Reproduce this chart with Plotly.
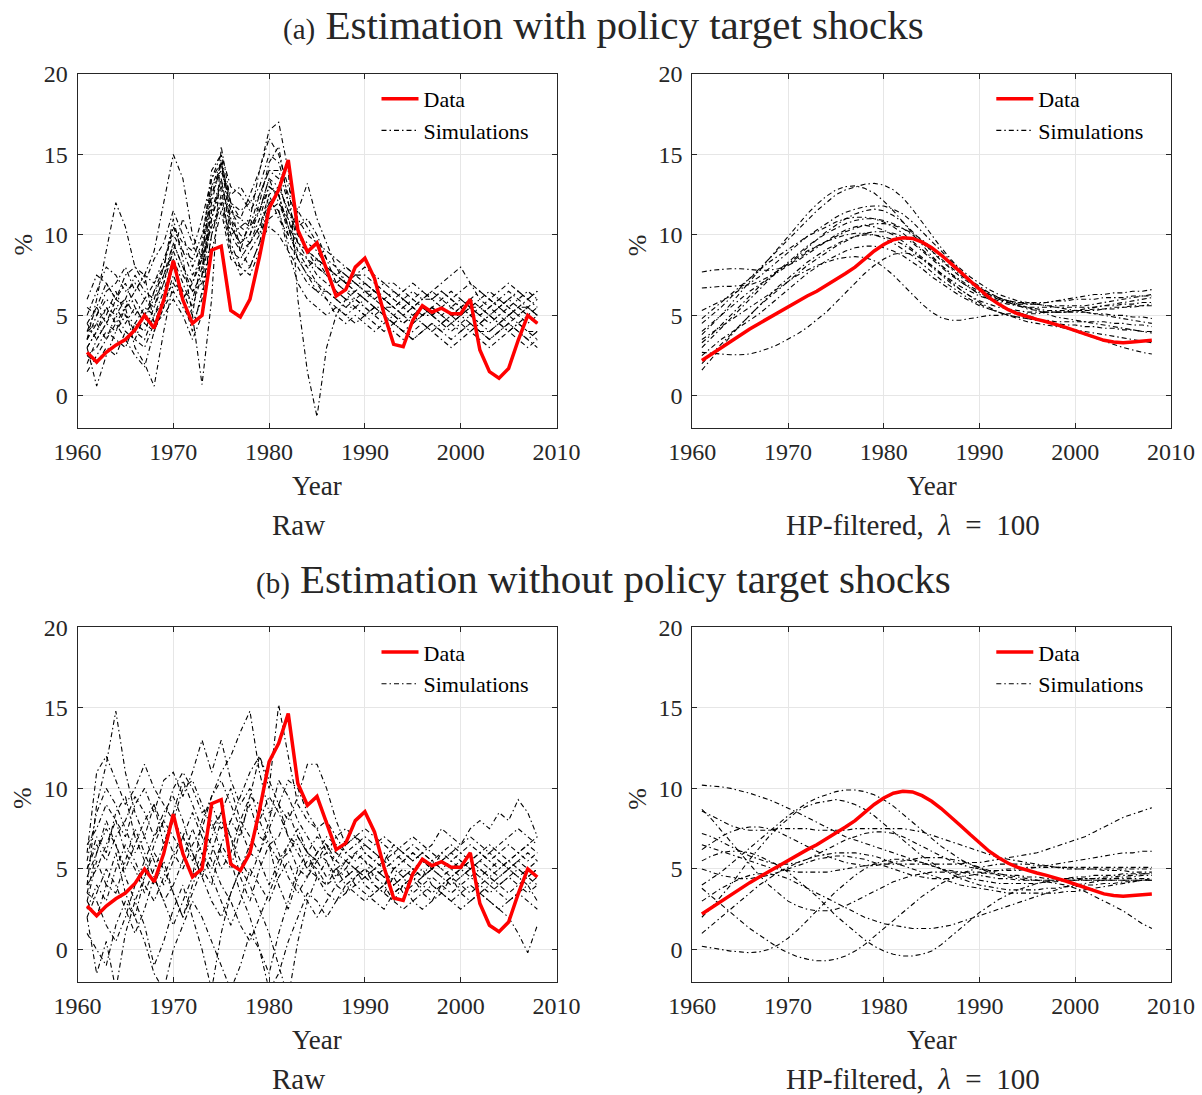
import plotly.graph_objects as go

years = list(range(1961, 2009))

data_raw = [2.7, 2.1, 2.7, 3.15, 3.5, 4.1, 5.0, 4.2, 5.95, 8.4,
            5.95, 4.5, 5.0, 9.05, 9.3, 5.3, 4.9, 6.0, 8.65, 11.65,
            12.8, 14.65, 10.3, 8.95, 9.5, 7.9, 6.2, 6.6, 8.0, 8.55,
            7.3, 5.1, 3.2, 3.05, 4.7, 5.6, 5.2, 5.45, 5.1, 5.1,
            6.0, 2.85, 1.5, 1.1, 1.7, 3.45, 5.0, 4.5]

data_hp = [2.2, 2.6, 3.0, 3.4, 3.8, 4.15, 4.5, 4.85, 5.2, 5.55,
           5.85, 6.2, 6.5, 6.85, 7.2, 7.6, 8.0, 8.5, 9.0, 9.4,
           9.7, 9.82, 9.78, 9.55, 9.2, 8.75, 8.25, 7.7, 7.15, 6.6,
           6.1, 5.7, 5.35, 5.1, 4.9, 4.75, 4.6, 4.45, 4.25, 4.05,
           3.85, 3.65, 3.45, 3.35, 3.3, 3.35, 3.4, 3.45]

# (a) with policy target shocks, raw simulations
sim_a_raw = [
    [3.5, 6.0, 9.0, 12.0, 10.5, 8.0, 7.5, 4.5, 6.0, 8.0, 6.5, 5.0, 9.0, 13.5, 15.0, 11.0, 10.0, 9.5, 11.0, 13.0,
     12.5, 10.0, 9.0, 8.5, 8.0, 7.5, 7.0, 6.5, 6.0, 6.5, 6.0, 5.5, 5.5, 5.0, 5.5, 5.0, 5.5, 5.0, 4.5, 5.0,
     5.5, 5.0, 4.5, 5.0, 5.5, 5.0, 4.5, 5.0],
    [4.5, 5.5, 7.0, 6.0, 5.5, 6.5, 7.5, 9.0, 12.0, 15.0, 13.5, 10.0, 8.5, 12.0, 14.5, 11.5, 10.5, 10.0, 11.5, 13.5,
     12.0, 11.0, 9.5, 9.0, 8.0, 7.5, 7.0, 7.5, 7.0, 6.5, 6.5, 6.0, 5.5, 6.0, 5.5, 6.0, 6.0, 5.5, 5.0, 5.5,
     6.0, 5.5, 5.0, 5.5, 6.0, 5.5, 5.0, 5.5],
    [3.0, 4.0, 5.5, 5.0, 4.0, 3.5, 5.0, 6.5, 8.0, 11.0, 8.5, 5.0, 0.7, 6.0, 15.5, 12.0, 9.0, 8.0, 9.5, 12.0,
     11.5, 9.0, 8.0, 7.0, 6.5, 6.5, 6.0, 5.5, 5.5, 6.0, 5.5, 5.0, 4.5, 5.0, 4.5, 5.0, 5.5, 5.0, 4.5, 4.0,
     4.5, 4.0, 4.0, 4.5, 5.0, 4.5, 4.0, 3.5],
    [2.5, 3.0, 4.0, 3.5, 3.0, 4.5, 4.0, 5.5, 7.5, 9.5, 8.0, 6.5, 7.0, 11.0, 13.5, 10.0, 9.0, 11.0, 14.0, 16.5,
     17.0, 14.0, 6.0, 1.5, -1.3, 3.0, 5.0, 6.0, 5.5, 5.0, 5.5, 5.0, 4.5, 4.0, 4.5, 5.0, 5.0, 4.5, 5.0, 5.5,
     5.0, 4.5, 4.0, 4.5, 5.0, 5.5, 5.0, 4.5],
    [3.0, 0.6, 2.5, 4.0, 5.5, 3.0, 2.0, 0.6, 4.0, 7.0, 6.0, 4.0, 6.5, 10.0, 12.5, 9.5, 8.0, 9.0, 10.0, 11.5,
     12.0, 10.5, 8.5, 8.0, 7.0, 6.0, 5.5, 5.0, 5.5, 5.0, 4.5, 4.0, 4.5, 4.0, 3.5, 4.0, 4.5, 4.0, 3.5, 4.0,
     4.5, 4.0, 3.5, 4.0, 4.5, 4.0, 3.5, 3.0],
    [5.0, 6.5, 8.0, 7.5, 6.5, 7.0, 6.0, 7.0, 8.5, 10.0, 9.0, 8.5, 10.0, 13.0, 14.0, 12.0, 11.5, 12.0, 13.0, 15.0,
     14.5, 12.5, 11.0, 10.0, 9.5, 9.0, 8.5, 8.0, 7.5, 7.5, 7.0, 6.5, 6.0, 6.5, 6.0, 6.5, 6.0, 6.5, 6.0, 6.5,
     7.0, 6.5, 6.0, 6.5, 7.0, 6.5, 6.0, 6.5],
    [2.0, 3.5, 4.5, 4.0, 5.0, 4.5, 5.5, 5.0, 6.5, 8.5, 7.0, 5.5, 7.5, 12.5, 14.5, 10.5, 9.5, 10.0, 12.0, 14.5,
     15.5, 12.0, 10.0, 9.5, 9.0, 8.0, 7.5, 7.0, 7.0, 6.5, 6.0, 6.5, 6.0, 5.5, 6.0, 5.5, 5.0, 5.5, 6.0, 5.5,
     5.0, 5.5, 6.0, 5.5, 5.0, 5.5, 6.0, 5.5],
    [4.0, 4.5, 3.5, 5.0, 6.0, 7.5, 6.5, 6.0, 7.0, 9.0, 11.0, 9.5, 8.0, 11.5, 13.0, 9.0, 8.5, 9.5, 10.5, 12.5,
     13.0, 11.5, 10.5, 11.0, 10.0, 8.5, 7.0, 6.5, 6.5, 7.0, 6.5, 6.0, 5.5, 5.0, 5.5, 5.0, 5.5, 6.0, 6.5, 6.0,
     5.5, 5.0, 5.5, 6.0, 5.5, 5.0, 5.5, 5.0],
    [3.5, 5.0, 6.0, 5.5, 4.5, 5.5, 4.5, 4.0, 5.5, 7.5, 6.0, 7.0, 8.5, 10.5, 12.0, 10.0, 10.5, 11.0, 10.0, 12.5,
     11.0, 10.0, 11.5, 13.2, 11.0, 9.5, 8.0, 7.0, 7.5, 8.0, 7.5, 7.0, 7.0, 6.5, 7.0, 6.5, 6.0, 6.5, 6.0, 5.5,
     6.0, 6.5, 6.0, 5.5, 6.0, 6.5, 6.0, 6.5],
    [2.5, 2.0, 3.0, 2.5, 4.0, 3.5, 3.0, 4.5, 5.0, 6.0, 5.0, 3.5, 5.0, 9.0, 11.5, 8.5, 8.0, 7.5, 9.0, 11.0,
     11.5, 9.5, 8.5, 7.5, 6.5, 6.0, 5.0, 4.5, 5.0, 4.5, 4.0, 4.5, 4.0, 3.5, 4.0, 4.5, 4.0, 3.5, 3.0, 3.5,
     4.0, 3.5, 3.0, 3.5, 4.0, 3.5, 3.0, 3.5],
    [6.0, 7.5, 7.0, 6.0, 7.5, 8.0, 7.0, 8.5, 9.5, 11.5, 10.0, 8.0, 9.5, 14.0, 15.0, 13.0, 12.5, 11.5, 12.5, 14.0,
     13.5, 11.0, 9.0, 8.0, 8.5, 8.0, 7.5, 8.0, 7.5, 7.0, 6.5, 7.0, 6.5, 6.0, 6.5, 6.0, 6.5, 6.0, 5.5, 6.0,
     5.5, 6.0, 6.5, 6.0, 5.5, 6.0, 6.5, 6.0],
    [3.0, 4.0, 5.0, 6.5, 5.0, 4.0, 3.5, 5.0, 6.0, 7.0, 6.5, 6.0, 8.0, 11.0, 13.0, 11.0, 9.0, 9.5, 10.5, 12.0,
     12.5, 10.5, 9.5, 9.0, 8.5, 7.5, 6.5, 6.0, 6.0, 5.5, 5.0, 5.5, 5.0, 4.5, 5.0, 5.5, 5.0, 4.5, 5.0, 4.5,
     4.0, 4.5, 5.0, 4.5, 4.0, 4.5, 5.0, 4.5],
    [4.5, 3.5, 4.5, 5.5, 6.0, 5.0, 6.0, 5.5, 7.0, 9.5, 8.0, 7.0, 9.0, 12.5, 14.0, 12.5, 13.0, 12.0, 11.5, 13.5,
     13.0, 11.5, 10.0, 9.0, 8.5, 8.0, 7.5, 7.0, 6.5, 6.0, 6.5, 6.0, 5.5, 6.0, 5.5, 6.0, 6.5, 7.0, 7.5, 8.0,
     7.0, 6.0, 5.5, 5.0, 4.5, 5.0, 5.5, 5.0],
    [1.5, 2.5, 3.5, 4.5, 3.5, 2.5, 1.8, 4.0, 5.5, 6.5, 5.5, 4.5, 6.0, 10.0, 12.0, 9.0, 7.5, 8.0, 9.5, 10.5,
     10.0, 9.0, 7.0, 6.0, 5.5, 5.0, 5.5, 5.0, 4.5, 5.0, 5.5, 5.0, 4.5, 4.0, 3.5, 4.0, 4.5, 4.0, 4.5, 5.0,
     4.5, 4.0, 3.5, 4.0, 4.5, 4.0, 3.5, 4.0],
    [5.5, 5.0, 6.5, 7.0, 8.0, 6.5, 7.5, 7.0, 8.0, 10.5, 9.5, 9.0, 11.0, 13.5, 14.5, 12.0, 11.0, 12.5, 14.0, 16.0,
     15.0, 13.0, 11.5, 10.5, 9.5, 8.5, 8.0, 7.5, 7.0, 7.0, 6.5, 6.0, 6.5, 6.0, 5.5, 5.0, 5.5, 5.0, 5.5, 5.0,
     5.5, 5.0, 5.5, 6.0, 6.5, 6.0, 5.5, 6.0],
    [4.0, 5.5, 4.5, 6.0, 7.0, 5.5, 4.5, 6.5, 7.5, 9.0, 7.5, 6.5, 7.5, 11.5, 13.5, 10.5, 9.5, 10.5, 12.5, 14.0,
     14.0, 12.0, 9.5, 8.5, 7.5, 7.0, 6.5, 6.0, 6.5, 6.0, 5.5, 5.5, 5.0, 5.5, 5.0, 5.5, 5.0, 5.5, 5.0, 5.0,
     5.5, 5.5, 5.0, 5.5, 5.0, 5.5, 5.5, 5.0],
    [3.5, 4.5, 5.5, 4.5, 5.5, 6.0, 5.0, 6.0, 8.0, 10.5, 9.0, 7.5, 8.5, 13.0, 14.5, 11.5, 11.0, 10.5, 11.5, 13.0,
     12.5, 10.5, 8.5, 7.5, 7.0, 6.5, 6.0, 5.5, 6.0, 5.5, 5.0, 4.5, 5.0, 4.5, 5.0, 4.5, 4.0, 4.5, 4.0, 4.5,
     5.0, 4.5, 5.0, 4.5, 4.0, 4.5, 4.0, 4.0],
]

# (a) with policy target shocks, HP-filtered simulations
sim_a_hp = [
    [7.7, 7.8, 7.85, 7.9, 7.9, 7.85, 7.8, 7.8, 7.9, 8.1, 8.4, 8.8, 9.2, 9.6, 10.0, 10.3, 10.5, 10.6, 10.5, 10.3,
     10.0, 9.6, 9.1, 8.6, 8.1, 7.6, 7.2, 6.8, 6.5, 6.2, 6.0, 5.8, 5.7, 5.6, 5.5, 5.5, 5.5, 5.5, 5.5, 5.5,
     5.5, 5.5, 5.6, 5.6, 5.7, 5.7, 5.8, 5.8],
    [6.7, 6.75, 6.8, 6.8, 6.85, 6.9, 7.1, 7.4, 7.8, 8.2, 8.7, 9.2, 9.7, 10.2, 10.6, 11.0, 11.3, 11.5, 11.6, 11.5,
     11.2, 10.8, 10.2, 9.6, 9.0, 8.4, 7.9, 7.4, 7.0, 6.6, 6.3, 6.1, 5.9, 5.8, 5.7, 5.7, 5.6, 5.6, 5.6, 5.6,
     5.6, 5.7, 5.8, 5.9, 6.0, 6.1, 6.2, 6.3],
    [2.7, 2.65, 2.6, 2.55, 2.55, 2.6, 2.75, 2.95, 3.2, 3.5, 3.85, 4.25, 4.7, 5.2, 5.8, 6.4, 7.0, 7.6, 8.1, 8.5,
     8.8, 8.9, 8.8, 8.5, 8.1, 7.6, 7.1, 6.6, 6.2, 5.8, 5.5, 5.2, 5.0, 4.8, 4.6, 4.5, 4.4, 4.3, 4.2, 4.1,
     4.0, 3.9, 3.8, 3.7, 3.6, 3.5, 3.4, 3.3],
    [3.5, 3.9, 4.3, 4.7, 5.1, 5.5, 5.9, 6.3, 6.7, 7.1, 7.5, 7.8, 8.1, 8.3, 8.5, 8.6, 8.65, 8.6, 8.4, 8.0,
     7.5, 6.9, 6.3, 5.7, 5.2, 4.85, 4.7, 4.7, 4.8, 4.9, 5.0, 5.0, 5.1, 5.1, 5.1, 5.1, 5.2, 5.2, 5.2, 5.2,
     5.2, 5.1, 5.1, 5.0, 5.0, 4.9, 4.9, 4.8],
    [4.5, 5.0, 5.5, 6.1, 6.7, 7.3, 7.9, 8.5, 9.1, 9.7, 10.3, 10.9, 11.5, 12.0, 12.5, 12.8, 13.0, 13.15, 13.2, 13.1,
     12.8, 12.3, 11.6, 10.8, 10.0, 9.2, 8.5, 7.8, 7.2, 6.7, 6.3, 6.0, 5.8, 5.6, 5.5, 5.4, 5.3, 5.3, 5.3, 5.3,
     5.3, 5.3, 5.4, 5.4, 5.5, 5.5, 5.6, 5.6],
    [3.8, 4.4, 5.0, 5.7, 6.4, 7.1, 7.8, 8.5, 9.2, 9.9, 10.6, 11.3, 11.9, 12.4, 12.8, 13.0, 13.05, 12.9, 12.6, 12.1,
     11.5, 10.8, 10.1, 9.4, 8.7, 8.1, 7.6, 7.1, 6.7, 6.4, 6.1, 5.9, 5.8, 5.7, 5.7, 5.7, 5.8, 5.9, 6.0, 6.1,
     6.2, 6.3, 6.3, 6.4, 6.4, 6.5, 6.5, 6.6],
    [2.0, 2.6, 3.2, 3.8, 4.4, 5.0, 5.6, 6.1, 6.6, 7.1, 7.6, 8.1, 8.5, 8.9, 9.3, 9.6, 9.9, 10.1, 10.2, 10.2,
     10.1, 9.9, 9.5, 9.0, 8.5, 8.0, 7.5, 7.1, 6.7, 6.3, 6.0, 5.7, 5.4, 5.2, 5.0, 4.8, 4.6, 4.4, 4.2, 4.0,
     3.8, 3.6, 3.4, 3.2, 3.0, 2.85, 2.7, 2.6],
    [1.6, 2.3, 3.0, 3.7, 4.4, 5.0, 5.6, 6.2, 6.8, 7.3, 7.8, 8.3, 8.7, 9.1, 9.4, 9.7, 9.9, 10.0, 10.0, 9.9,
     9.7, 9.4, 9.0, 8.5, 8.0, 7.5, 7.0, 6.6, 6.2, 5.9, 5.7, 5.5, 5.4, 5.3, 5.2, 5.2, 5.2, 5.2, 5.2, 5.3,
     5.3, 5.4, 5.4, 5.5, 5.5, 5.6, 5.6, 5.7],
    [5.3, 5.6, 5.9, 6.2, 6.6, 7.0, 7.4, 7.9, 8.4, 8.9, 9.4, 9.9, 10.3, 10.7, 11.1, 11.4, 11.6, 11.75, 11.8, 11.8,
     11.6, 11.3, 10.8, 10.2, 9.6, 9.0, 8.4, 7.9, 7.4, 7.0, 6.6, 6.3, 6.1, 5.9, 5.8, 5.7, 5.6, 5.5, 5.4, 5.3,
     5.2, 5.1, 5.0, 4.9, 4.8, 4.7, 4.6, 4.5],
    [3.0, 3.6, 4.2, 4.8, 5.4, 6.0, 6.6, 7.2, 7.8, 8.3, 8.8, 9.3, 9.7, 10.1, 10.4, 10.7, 10.9, 11.0, 11.0, 10.9,
     10.7, 10.4, 10.0, 9.5, 9.0, 8.5, 8.0, 7.5, 7.1, 6.7, 6.4, 6.1, 5.9, 5.7, 5.5, 5.3, 5.1, 4.9, 4.8, 4.7,
     4.6, 4.5, 4.4, 4.3, 4.2, 4.1, 4.0, 3.9],
    [4.0, 4.5, 5.0, 5.5, 6.0, 6.5, 6.9, 7.3, 7.7, 8.1, 8.5, 8.9, 9.3, 9.6, 9.9, 10.2, 10.4, 10.6, 10.7, 10.7,
     10.6, 10.4, 10.1, 9.7, 9.2, 8.7, 8.2, 7.7, 7.2, 6.8, 6.4, 6.1, 5.8, 5.6, 5.4, 5.3, 5.2, 5.2, 5.2, 5.3,
     5.4, 5.5, 5.6, 5.7, 5.8, 5.9, 6.0, 6.1],
    [2.5, 3.0, 3.5, 3.9, 4.3, 4.7, 5.1, 5.6, 6.1, 6.6, 7.1, 7.6, 8.0, 8.4, 8.7, 9.0, 9.2, 9.3, 9.3, 9.2,
     9.0, 8.7, 8.3, 7.9, 7.4, 7.0, 6.6, 6.2, 5.9, 5.6, 5.4, 5.2, 5.0, 4.9, 4.8, 4.7, 4.6, 4.5, 4.4, 4.4,
     4.3, 4.3, 4.2, 4.2, 4.1, 4.1, 4.0, 4.0],
    [4.8, 5.3, 5.8, 6.3, 6.8, 7.3, 7.8, 8.3, 8.7, 9.1, 9.5, 9.9, 10.2, 10.5, 10.8, 11.0, 11.1, 11.1, 11.0, 10.8,
     10.5, 10.1, 9.6, 9.1, 8.6, 8.1, 7.6, 7.2, 6.8, 6.5, 6.2, 6.0, 5.9, 5.8, 5.8, 5.8, 5.8, 5.9, 5.9, 6.0,
     6.0, 6.0, 6.1, 6.1, 6.1, 6.2, 6.2, 6.2],
    [3.3, 3.8, 4.4, 5.0, 5.6, 6.2, 6.8, 7.3, 7.8, 8.2, 8.6, 9.0, 9.3, 9.6, 9.8, 10.0, 10.1, 10.1, 10.0, 9.8,
     9.5, 9.1, 8.7, 8.2, 7.7, 7.2, 6.8, 6.4, 6.0, 5.7, 5.4, 5.2, 5.0, 4.9, 4.8, 4.7, 4.7, 4.6, 4.6, 4.6,
     4.6, 4.6, 4.6, 4.5, 4.5, 4.4, 4.4, 4.3],
]

# (b) without policy target shocks, raw simulations
sim_b_raw = [
    [4.0, 9.0, 11.5, 14.8, 11.0, 8.5, 7.0, 9.0, 6.5, 8.0, 7.0, 5.5, 6.5, 8.0, 6.0, 5.0, 7.5, 9.0, 7.0, 6.5,
     5.5, 6.0, 7.0, 6.0, 5.5, 6.5, 5.0, 4.5, 5.0, 5.5, 4.5, 5.0, 4.0, 4.5, 5.0, 4.5, 5.5, 5.0, 4.5, 5.0,
     5.5, 5.0, 4.5, 5.0, 5.5, 5.0, 4.5, 5.0],
    [3.0, 5.5, 4.0, 6.0, 3.5, 2.0, 4.5, 6.5, 8.0, 7.0, 6.0, 4.5, 8.0, 9.5, 11.0, 12.0, 13.5, 14.8, 11.0, 8.5,
     9.0, 7.0, 6.5, 5.0, 6.0, 5.5, 4.5, 5.0, 4.0, 4.5, 5.0, 4.5, 3.5, 4.0, 4.5, 5.0, 4.0, 3.5, 4.5, 4.0,
     3.5, 4.0, 4.5, 4.0, 3.5, 4.0, 4.5, 4.0],
    [5.0, 7.0, 6.0, 8.5, 9.5, 7.0, 5.5, 4.0, 5.5, 3.5, 2.0, 3.5, 5.0, 4.0, 6.5, 8.0, 7.0, 9.5, 12.0, 10.0,
     15.2, 12.0, 9.0, 8.0, 7.5, 6.0, 5.5, 6.5, 7.0, 6.0, 5.5, 6.0, 5.0, 5.5, 6.0, 5.5, 5.0, 6.0, 5.5, 5.0,
     5.5, 6.0, 5.5, 5.0, 5.5, 6.0, 5.5, 6.0],
    [2.0, -1.5, 0.5, -2.5, 1.0, 3.0, 1.5, -1.0, 0.5, 2.5, 4.0, 2.0, 0.0, -2.5, 1.0, 3.5, 5.0, 4.0, 2.5, 1.0,
     -1.0, -3.0, 0.5, 3.0, 4.5, 5.5, 4.0, 3.5, 4.5, 5.0, 4.0, 3.5, 3.0, 4.0, 4.5, 3.5, 3.0, 4.0, 4.5, 3.5,
     3.0, 3.5, 4.0, 3.5, 3.0, 3.5, 4.0, 3.0],
    [6.0, 11.0, 12.0, 10.5, 9.0, 10.0, 11.5, 10.0, 9.0, 8.0, 10.0, 10.5, 9.0, 7.5, 8.5, 10.0, 8.0, 7.0, 6.0, 7.5,
     9.0, 8.0, 9.5, 11.5, 11.5, 10.0, 8.0, 6.5, 7.0, 7.5, 7.0, 6.5, 6.0, 6.5, 7.0, 6.5, 6.0, 5.5, 6.0, 6.5,
     7.0, 6.5, 6.0, 6.5, 7.0, 7.5, 7.0, 6.5],
    [3.5, 3.0, 1.5, 0.5, 2.0, 4.0, 5.5, 7.0, 8.5, 9.5, 8.0, 6.0, 4.5, 3.0, 2.0, 3.5, 5.0, 6.5, 8.0, 9.5,
     8.5, 7.0, 6.0, 5.0, 4.5, 4.0, 5.0, 5.5, 5.0, 4.5, 4.0, 3.5, 4.5, 5.0, 4.5, 4.0, 3.5, 4.0, 4.5, 5.0,
     4.5, 4.0, 3.5, 4.0, 4.5, 4.0, 3.5, 4.0],
    [4.5, 6.0, 7.5, 6.5, 5.0, 6.5, 8.0, 9.0, 7.5, 6.0, 5.0, 6.5, 7.5, 9.5, 10.5, 9.0, 7.5, 6.0, 5.5, 4.0,
     5.5, 6.5, 5.0, 4.5, 5.5, 6.0, 7.0, 7.5, 7.0, 6.5, 6.0, 5.5, 6.5, 6.0, 5.5, 6.0, 6.5, 7.5, 7.0, 6.5,
     7.5, 8.0, 7.5, 8.5, 8.0, 9.3, 8.5, 7.0],
    [2.5, 4.0, 3.0, 5.0, 6.5, 5.5, 4.0, 3.0, 4.5, 6.0, 7.0, 8.5, 7.0, 5.5, 4.0, 3.0, 1.5, 0.5, 2.0, 3.5,
     5.0, 6.5, 7.5, 6.0, 4.5, 3.5, 3.0, 4.0, 3.5, 3.0, 3.5, 4.0, 3.0, 2.5, 3.0, 3.5, 4.0, 3.5, 3.0, 3.5,
     4.0, 3.5, 3.0, 2.5, 2.0, 1.0, -0.2, 1.5],
    [5.5, 8.5, 10.0, 9.0, 7.5, 6.0, 7.0, 5.5, 4.0, 5.5, 7.0, 6.0, 4.5, 6.0, 8.0, 7.0, 5.5, 4.5, 6.0, 8.0,
     10.5, 9.5, 8.0, 7.0, 6.0, 6.5, 5.5, 5.0, 6.0, 5.5, 5.0, 5.5, 6.0, 5.5, 5.0, 4.5, 5.0, 5.5, 5.0, 4.5,
     5.0, 5.5, 5.0, 4.5, 5.0, 5.5, 5.0, 4.5],
    [1.0, 0.0, -1.0, 1.5, 3.0, 2.0, 0.5, -1.5, -2.5, 0.0, 1.5, 3.0, 2.0, 0.5, -1.0, -2.5, -1.0, 1.0, 0.0, -2.5,
     -1.5, 0.5, 2.0, 3.5, 3.0, 2.0, 3.0, 3.5, 4.0, 3.5, 3.0, 2.5, 3.5, 4.0, 3.0, 2.5, 3.0, 3.5, 3.0, 2.5,
     3.0, 3.5, 3.0, 2.5, 3.0, 3.5, 3.0, 2.5],
    [4.0, 5.0, 6.5, 8.0, 7.0, 9.0, 10.0, 8.5, 10.5, 11.0, 9.5, 11.0, 13.0, 11.0, 13.0, 10.5, 9.0, 10.0, 8.0, 6.5,
     7.0, 8.5, 7.0, 6.0, 7.0, 6.5, 6.0, 5.5, 6.0, 6.5, 6.0, 5.5, 5.0, 5.5, 6.0, 5.5, 5.0, 5.5, 6.0, 5.5,
     5.0, 5.5, 6.0, 5.5, 5.0, 5.5, 6.0, 5.5],
    [3.0, 2.0, 4.0, 3.5, 5.5, 7.5, 6.0, 4.5, 3.0, 1.5, 3.0, 4.5, 6.0, 5.0, 6.5, 5.5, 3.5, 2.0, 0.0, -1.5,
     1.0, 3.0, 5.0, 6.0, 5.5, 4.5, 5.0, 4.0, 4.5, 5.0, 4.5, 4.0, 4.5, 3.5, 4.0, 4.5, 5.0, 4.5, 4.0, 4.5,
     5.0, 4.5, 4.0, 4.5, 5.0, 4.5, 4.0, 4.5],
    [6.5, 7.5, 9.0, 8.0, 6.0, 5.0, 3.5, 5.0, 6.5, 8.5, 10.5, 9.0, 7.5, 6.5, 5.0, 6.0, 8.0, 9.5, 9.0, 7.5,
     6.0, 4.5, 3.5, 4.5, 6.0, 7.0, 6.5, 6.0, 5.5, 6.0, 5.5, 5.0, 5.5, 6.0, 6.5, 6.0, 5.5, 5.0, 5.5, 6.0,
     6.5, 6.0, 5.5, 6.0, 6.5, 6.0, 6.5, 7.0],
    [2.0, 3.5, 5.0, 4.0, 2.5, 1.0, 2.5, 4.5, 3.0, 4.0, 5.5, 7.5, 6.0, 4.5, 3.0, 1.5, 3.0, 5.0, 4.0, 3.0,
     4.5, 5.5, 4.0, 3.0, 2.0, 3.0, 4.0, 4.5, 5.0, 4.5, 5.0, 4.5, 4.0, 4.5, 5.0, 5.5, 5.0, 4.5, 5.0, 5.5,
     5.0, 4.5, 5.0, 5.5, 5.0, 4.5, 5.0, 5.5],
    [5.0, 6.5, 5.5, 7.0, 8.0, 9.5, 8.5, 7.0, 8.0, 10.0, 11.0, 10.0, 8.5, 9.0, 7.5, 8.0, 9.5, 11.0, 12.0, 10.5,
     9.0, 10.5, 10.0, 8.5, 7.5, 8.0, 7.0, 6.0, 6.5, 7.0, 6.5, 7.0, 6.5, 6.0, 5.5, 6.0, 5.5, 6.0, 6.5, 6.0,
     5.5, 6.0, 6.5, 6.0, 5.5, 6.0, 6.5, 6.0],
    [3.5, 6.0, 8.0, 6.5, 4.5, 3.0, 4.5, 6.0, 5.0, 3.5, 2.0, 4.0, 5.5, 7.0, 8.5, 7.0, 4.5, 3.0, 5.0, 6.5,
     4.0, 2.5, 4.5, 5.5, 5.0, 4.0, 4.5, 5.5, 5.0, 4.0, 3.5, 4.0, 5.0, 4.5, 3.5, 4.0, 4.5, 4.0, 3.5, 4.0,
     4.5, 5.0, 4.5, 4.0, 4.5, 5.0, 4.5, 5.0],
]

# (b) without policy target shocks, HP-filtered simulations
sim_b_hp = [
    [10.2, 10.15, 10.1, 10.0, 9.85, 9.7, 9.5, 9.3, 9.05, 8.8, 8.5, 8.2, 7.9, 7.6, 7.3, 7.0, 6.8, 6.6, 6.4, 6.2,
     6.0, 5.8, 5.6, 5.4, 5.2, 5.0, 4.9, 4.8, 4.7, 4.6, 4.5, 4.4, 4.4, 4.3, 4.3, 4.3, 4.3, 4.3, 4.3, 4.3,
     4.3, 4.3, 4.3, 4.3, 4.3, 4.3, 4.3, 4.3],
    [0.2, 0.1, 0.0, -0.1, -0.15, -0.2, -0.15, 0.0, 0.3, 0.7, 1.2, 1.8, 2.4, 3.0, 3.6, 4.1, 4.6, 5.0, 5.3, 5.5,
     5.6, 5.6, 5.5, 5.4, 5.2, 5.0, 4.8, 4.6, 4.4, 4.3, 4.2, 4.1, 4.1, 4.1, 4.1, 4.1, 4.2, 4.2, 4.3, 4.3,
     4.4, 4.4, 4.5, 4.5, 4.6, 4.6, 4.7, 4.7],
    [3.8, 3.3, 2.8, 2.3, 1.8, 1.3, 0.9, 0.5, 0.1, -0.2, -0.45, -0.6, -0.7, -0.7, -0.6, -0.4, -0.1, 0.3, 0.8, 1.3,
     1.8, 2.3, 2.8, 3.3, 3.7, 4.1, 4.4, 4.7, 4.9, 5.1, 5.2, 5.3, 5.3, 5.3, 5.3, 5.2, 5.2, 5.1, 5.1, 5.0,
     5.0, 5.0, 4.9, 4.9, 4.9, 4.8, 4.8, 4.8],
    [5.5, 5.8, 6.0, 6.1, 6.1, 6.0, 5.8, 5.5, 5.2, 4.8, 4.3, 3.8, 3.3, 2.7, 2.1, 1.6, 1.1, 0.6, 0.2, -0.1,
     -0.3, -0.4, -0.4, -0.3, -0.1, 0.3, 0.8, 1.3, 1.8, 2.3, 2.7, 3.1, 3.4, 3.7, 3.9, 4.1, 4.2, 4.3, 4.4, 4.5,
     4.5, 4.6, 4.6, 4.6, 4.7, 4.7, 4.7, 4.7],
    [4.0, 4.4, 4.8, 5.3, 5.8, 6.3, 6.8, 7.3, 7.8, 8.3, 8.7, 9.1, 9.4, 9.6, 9.8, 9.9, 9.9, 9.8, 9.6, 9.3,
     8.9, 8.4, 7.9, 7.4, 6.9, 6.4, 6.0, 5.6, 5.3, 5.0, 4.8, 4.6, 4.5, 4.4, 4.3, 4.3, 4.3, 4.3, 4.3, 4.3,
     4.3, 4.3, 4.3, 4.3, 4.3, 4.3, 4.3, 4.3],
    [6.5, 6.3, 6.1, 5.9, 5.7, 5.5, 5.3, 5.1, 5.0, 4.9, 4.8, 4.8, 4.8, 4.8, 4.9, 5.0, 5.1, 5.2, 5.3, 5.3,
     5.3, 5.3, 5.3, 5.3, 5.3, 5.3, 5.3, 5.3, 5.4, 5.4, 5.5, 5.6, 5.7, 5.8, 5.9, 6.0, 6.2, 6.4, 6.6, 6.8,
     7.0, 7.3, 7.6, 7.9, 8.2, 8.4, 8.6, 8.8],
    [6.2, 6.6, 7.0, 7.3, 7.5, 7.6, 7.6, 7.5, 7.3, 7.0, 6.7, 6.4, 6.1, 5.8, 5.6, 5.4, 5.3, 5.2, 5.2, 5.3,
     5.4, 5.5, 5.6, 5.7, 5.7, 5.7, 5.6, 5.5, 5.3, 5.1, 4.9, 4.7, 4.6, 4.5, 4.4, 4.3, 4.2, 4.1, 4.0, 3.8,
     3.6, 3.3, 3.0, 2.7, 2.4, 2.0, 1.6, 1.3],
    [2.0, 2.6, 3.3, 4.0, 4.8, 5.6, 6.3, 7.0, 7.6, 8.1, 8.6, 8.9, 9.1, 9.2, 9.3, 9.2, 9.0, 8.7, 8.3, 7.8,
     7.3, 6.8, 6.3, 5.8, 5.4, 5.0, 4.7, 4.4, 4.2, 4.0, 3.9, 3.8, 3.7, 3.7, 3.7, 3.7, 3.8, 3.8, 3.9, 3.9,
     4.0, 4.0, 4.1, 4.1, 4.2, 4.2, 4.3, 4.3],
    [8.6, 8.3, 8.0, 7.7, 7.5, 7.4, 7.4, 7.4, 7.5, 7.5, 7.5, 7.5, 7.4, 7.4, 7.4, 7.4, 7.5, 7.5, 7.5, 7.5,
     7.5, 7.5, 7.4, 7.3, 7.1, 6.9, 6.7, 6.5, 6.3, 6.1, 5.9, 5.7, 5.6, 5.5, 5.4, 5.3, 5.2, 5.1, 5.0, 5.0,
     5.0, 5.0, 5.0, 5.0, 5.0, 5.0, 5.0, 5.0],
    [3.0, 3.4, 3.8, 4.1, 4.4, 4.6, 4.7, 4.7, 4.6, 4.4, 4.1, 3.8, 3.5, 3.2, 2.9, 2.6, 2.3, 2.0, 1.8, 1.6,
     1.5, 1.4, 1.3, 1.3, 1.3, 1.4, 1.5, 1.7, 1.9, 2.1, 2.3, 2.5, 2.7, 2.9, 3.1, 3.3, 3.5, 3.7, 3.9, 4.0,
     4.1, 4.2, 4.3, 4.4, 4.5, 4.5, 4.6, 4.6],
    [5.0, 4.8, 4.6, 4.5, 4.4, 4.4, 4.5, 4.6, 4.8, 5.0, 5.2, 5.4, 5.6, 5.7, 5.8, 5.8, 5.7, 5.6, 5.4, 5.2,
     5.0, 4.8, 4.6, 4.5, 4.4, 4.4, 4.4, 4.5, 4.6, 4.7, 4.8, 4.9, 5.0, 5.0, 5.1, 5.1, 5.1, 5.1, 5.1, 5.1,
     5.1, 5.1, 5.1, 5.1, 5.1, 5.1, 5.1, 5.1],
    [8.7, 8.1, 7.4, 6.7, 6.0, 5.3, 4.6, 4.0, 3.5, 3.0, 2.7, 2.5, 2.4, 2.4, 2.5, 2.7, 3.0, 3.3, 3.6, 3.9,
     4.2, 4.4, 4.6, 4.7, 4.8, 4.8, 4.8, 4.8, 4.8, 4.8, 4.7, 4.7, 4.6, 4.6, 4.5, 4.5, 4.4, 4.4, 4.4, 4.4,
     4.4, 4.4, 4.4, 4.4, 4.4, 4.4, 4.4, 4.4],
    [1.0, 1.5, 2.0, 2.5, 3.0, 3.5, 4.0, 4.4, 4.8, 5.1, 5.4, 5.6, 5.8, 5.9, 6.0, 6.0, 6.0, 5.9, 5.8, 5.6,
     5.4, 5.2, 5.0, 4.8, 4.6, 4.4, 4.2, 4.0, 3.9, 3.8, 3.7, 3.6, 3.5, 3.5, 3.5, 3.5, 3.5, 3.5, 3.6, 3.6,
     3.7, 3.8, 3.9, 4.0, 4.1, 4.2, 4.3, 4.4],
    [7.2, 7.0, 6.7, 6.4, 6.1, 5.8, 5.6, 5.4, 5.3, 5.3, 5.4, 5.6, 5.9, 6.2, 6.5, 6.8, 7.0, 7.2, 7.3, 7.3,
     7.2, 7.0, 6.7, 6.4, 6.1, 5.8, 5.5, 5.3, 5.1, 5.0, 4.9, 4.9, 4.9, 4.9, 5.0, 5.1, 5.2, 5.3, 5.4, 5.5,
     5.6, 5.7, 5.8, 5.9, 6.0, 6.0, 6.1, 6.1],
]

x_ticks = [1960, 1970, 1980, 1990, 2000, 2010]
y_ticks = [0, 5, 10, 15, 20]

FONT = "Liberation Serif"
AX = "#262626"
W, H = 1202, 1095

def px_x(p):
    return p / W

def px_y(p):
    return 1 - p / H

dom_left = [px_x(77.5), px_x(556.5)]
dom_right = [px_x(692.3), px_x(1171)]
dom_top = [px_y(428), px_y(74)]
dom_bot = [px_y(981.7), px_y(627.3)]

panels = [
    ("", sim_a_raw, data_raw, dom_left, dom_top, "legend"),
    ("2", sim_a_hp, data_hp, dom_right, dom_top, "legend2"),
    ("3", sim_b_raw, data_raw, dom_left, dom_bot, "legend3"),
    ("4", sim_b_hp, data_hp, dom_right, dom_bot, "legend4"),
]

fig = go.Figure()
layout = dict(
    width=W, height=H,
    margin=dict(l=0, r=0, t=0, b=0, autoexpand=False),
    paper_bgcolor="white", plot_bgcolor="white",
    font=dict(family=FONT, size=24, color=AX),
    annotations=[],
)

for suf, sims, dat, xd, yd, lg in panels:
    xa = "x" + suf
    ya = "y" + suf
    for i, s in enumerate(sims):
        fig.add_trace(go.Scatter(
            x=years, y=s, mode="lines", xaxis=xa, yaxis=ya,
            line=dict(color="black", width=1.1, dash="5px,3px,1.5px,3px"),
            name="Simulations", showlegend=(i == 0), legend=lg,
            legendrank=2, hoverinfo="skip",
        ))
    fig.add_trace(go.Scatter(
        x=years, y=dat, mode="lines", xaxis=xa, yaxis=ya,
        line=dict(color="#ff0000", width=3.5),
        name="Data", showlegend=True, legend=lg, legendrank=1,
    ))
    axis_common = dict(
        showline=True, linecolor=AX, linewidth=1, mirror="ticks",
        ticks="inside", ticklen=5, tickcolor=AX, tickwidth=1,
        showgrid=True, gridcolor="#e6e6e6", gridwidth=1, zeroline=False,
        tickfont=dict(family=FONT, size=24, color=AX), automargin=False,
    )
    layout["xaxis" + suf] = dict(
        domain=xd, anchor=ya, range=[1960, 2010], tickvals=x_ticks,
        ticklabelstandoff=2, **axis_common)
    layout["yaxis" + suf] = dict(
        domain=yd, anchor=xa, range=[-2, 20], tickvals=y_ticks,
        ticklabelstandoff=4, **axis_common)
    legend_x = px_x(xd[0] * W + 299)
    legend_y = yd[1] - 4 / H
    layout[lg] = dict(
        x=legend_x, y=legend_y, xanchor="left", yanchor="top",
        bgcolor="rgba(0,0,0,0)", borderwidth=0,
        font=dict(family=FONT, size=22, color="black"),
        itemwidth=37, tracegroupgap=0,
    )

ann = layout["annotations"]

def add_text(text, x, y, size, angle=0):
    ann.append(dict(text=text, x=x, y=y, xref="paper", yref="paper",
                    xanchor="center", yanchor="middle", showarrow=False,
                    textangle=angle, font=dict(family=FONT, size=size, color=AX)))

add_text("<span style='font-size:29px'>(a)</span> Estimation with policy target shocks",
         px_x(603), px_y(25), 41)
add_text("<span style='font-size:29px'>(b)</span> Estimation without policy target shocks",
         px_x(603), px_y(579), 41)

hp_label = "HP-filtered,\u2002<i>λ</i>\u2002=\u2002100"
for xd, yd, sub in [(dom_left, dom_top, "Raw"), (dom_right, dom_top, hp_label),
                    (dom_left, dom_bot, "Raw"), (dom_right, dom_bot, hp_label)]:
    cx = (xd[0] + xd[1]) / 2
    bottom_px = (1 - yd[0]) * H
    add_text("Year", cx, px_y(bottom_px + 58), 27)
    add_text(sub, cx - 19 / W, px_y(bottom_px + 97), 29)
    left_px = xd[0] * W
    mid_px = (1 - (yd[0] + yd[1]) / 2) * H
    add_text("%", px_x(left_px - 55), px_y(mid_px - 6), 26, angle=-90)

fig.update_layout(**layout)
fig.write_html("out.html")
